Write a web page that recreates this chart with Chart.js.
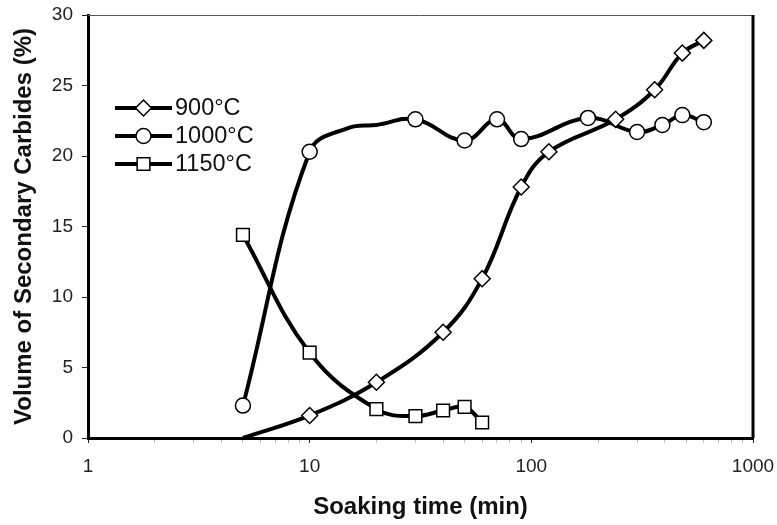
<!DOCTYPE html>
<html>
<head>
<meta charset="utf-8">
<script src="https://cdn.jsdelivr.net/npm/chart.js@4/dist/chart.umd.min.js"></script>
<style>
    html, body { margin: 0; padding: 0; background: #fff; }
    #wrap { width: 777px; height: 525px; }
</style>
</head>
<body>
<div id="wrap"><canvas id="chart"></canvas></div>
<script>
// soaking time (min) and volume of secondary carbides (%)
const t900 = [5, 10, 20, 40, 60, 90, 120, 240, 360, 480, 600]
const v900 = [0, 1.6, 3.95, 7.5, 11.3, 17.8, 20.3, 22.6, 24.7, 27.3, 28.2]
const t1000 = [5, 10, 15, 20, 30, 50, 70, 90, 180, 300, 390, 480, 600]
const v1000 = [2.3, 20.3, 22.0, 22.2, 22.6, 21.1, 22.6, 21.2, 22.7, 21.7, 22.2, 22.9, 22.4]
const t1150 = [5, 10, 20, 30, 40, 50, 60]
const v1150 = [14.4, 6.05, 2.05, 1.55, 1.95, 2.2, 1.1]
// points on the curve that carry no marker
const noMarker900 = [5]
const noMarker1000 = [15, 20]
const seriesNames = ['900°C', '1000°C', '1150°C']
const xTicks = [1, 10, 100, 1000]
const yTicks = [0, 5, 10, 15, 20, 25, 30]

const toPoints = (t, v) => t.map((x, i) => ({x: x, y: v[i]}))
const radiusFor = (skip, r) => ctx => {
    const p = ctx.raw
    return p && skip.includes(p.x) ? 0 : r
}

const common = {
    borderColor: '#000',
    borderWidth: 4,
    pointBackgroundColor: '#fff',
    pointBorderColor: '#000',
    pointBorderWidth: 1.5,
    tension: 0.4,
    fill: false
}

// legend drawn inside the plot, like the original
const insideLegend = {
    id: 'insideLegend',
    afterDraw(chart) {
        const ctx = chart.ctx
        const a = chart.chartArea
        ctx.save()
        chart.data.datasets.forEach((ds, i) => {
            const y = a.top + 93 + i * 28
            const x0 = a.left + 27, x1 = a.left + 84, xm = (x0 + x1) / 2
            ctx.strokeStyle = '#000'
            ctx.lineWidth = 4
            ctx.beginPath()
            ctx.moveTo(x0, y)
            ctx.lineTo(x1, y)
            ctx.stroke()
            ctx.fillStyle = '#fff'
            ctx.lineWidth = 1.5
            const r = ds.legendRadius
            ctx.beginPath()
            if (ds.pointStyle === 'circle') {
                ctx.arc(xm, y, r, 0, Math.PI * 2)
            } else if (ds.pointStyle === 'rectRot') {
                ctx.moveTo(xm, y - r)
                ctx.lineTo(xm + r, y)
                ctx.lineTo(xm, y + r)
                ctx.lineTo(xm - r, y)
                ctx.closePath()
            } else {
                const s = r * Math.SQRT1_2
                ctx.rect(xm - s, y - s, 2 * s, 2 * s)
            }
            ctx.fill()
            ctx.stroke()
            ctx.fillStyle = '#111'
            ctx.font = '23.5px "Liberation Sans", Arial, sans-serif'
            ctx.textBaseline = 'middle'
            ctx.fillText(ds.label, x1 + 3, y + 1)
        })
        ctx.restore()
    }
}

// top and right frame lines
const frame = {
    id: 'frame',
    afterDraw(chart) {
        const ctx = chart.ctx
        const a = chart.chartArea
        ctx.save()
        ctx.strokeStyle = '#555'
        ctx.lineWidth = 1
        ctx.beginPath()
        ctx.moveTo(a.left, a.top + 0.5)
        ctx.lineTo(a.right, a.top + 0.5)
        ctx.stroke()
        ctx.strokeStyle = '#000'
        ctx.lineWidth = 3
        ctx.beginPath()
        ctx.moveTo(a.right, a.top)
        ctx.lineTo(a.right, a.bottom)
        ctx.stroke()
        ctx.restore()
    }
}

let ctx = document.getElementById('chart').getContext('2d')
let chart = new Chart(ctx, {
    type: 'line',
    data: {
        datasets: [
            Object.assign({}, common, {
                label: seriesNames[0],
                data: toPoints(t900, v900),
                pointStyle: 'rectRot',
                pointRadius: radiusFor(noMarker900, 8),
                legendRadius: 8
            }),
            Object.assign({}, common, {
                label: seriesNames[1],
                data: toPoints(t1000, v1000),
                pointStyle: 'circle',
                pointRadius: radiusFor(noMarker1000, 7.5),
                legendRadius: 7.5
            }),
            Object.assign({}, common, {
                label: seriesNames[2],
                data: toPoints(t1150, v1150),
                pointStyle: 'rect',
                pointRadius: 9,
                legendRadius: 9
            })
        ]
    },
    options: {
        responsive: true,
        maintainAspectRatio: false,
        animation: false,
        layout: {padding: {top: 15, right: 24, left: 0, bottom: 0}},
        plugins: {
            legend: {display: false},
            tooltip: {enabled: false}
        },
        scales: {
            x: {
                type: 'logarithmic',
                min: 1,
                max: 1000,
                afterFit: s => {
                    s.height = 87
                    s.paddingLeft = 0
                    s.paddingRight = 0
                },
                afterBuildTicks: s => {
                    // decades plus the minor 2..9 ticks
                    const list = []
                    xTicks.forEach((d, i) => {
                        list.push({value: d})
                        if (i < xTicks.length - 1) {
                            for (let k = 2; k < 10; k++) list.push({value: d * k})
                        }
                    })
                    s.ticks = list
                },
                border: {color: '#000', width: 3},
                grid: {
                    drawOnChartArea: false,
                    drawTicks: true,
                    tickLength: 5,
                    tickColor: c => xTicks.includes(c.tick && c.tick.value) ? '#222' : '#bbb',
                    tickWidth: 1
                },
                ticks: {
                    autoSkip: false,
                    maxRotation: 0,
                    padding: 12,
                    color: '#222',
                    font: {family: '"Liberation Sans", Arial, sans-serif', size: 19},
                    callback: v => xTicks.includes(v) ? String(v) : ''
                },
                title: {
                    display: true,
                    text: 'Soaking time (min)',
                    color: '#111',
                    font: {family: '"Liberation Sans", Arial, sans-serif', size: 24, weight: 'bold'},
                    padding: {top: 0, bottom: 3}
                }
            },
            y: {
                min: 0,
                max: 30,
                afterFit: s => {
                    s.width = 88
                    s.paddingTop = 0
                    s.paddingBottom = 0
                },
                afterBuildTicks: s => { s.ticks = yTicks.map(v => ({value: v})) },
                border: {color: '#000', width: 3},
                grid: {
                    drawOnChartArea: false,
                    drawTicks: true,
                    tickLength: 6,
                    tickColor: '#222',
                    tickWidth: 1
                },
                ticks: {
                    padding: 9,
                    color: '#222',
                    font: {family: '"Liberation Sans", Arial, sans-serif', size: 19}
                },
                title: {
                    display: true,
                    text: 'Volume of Secondary Carbides (%)',
                    color: '#111',
                    font: {family: '"Liberation Sans", Arial, sans-serif', size: 24, weight: 'bold'},
                    padding: {top: 10, bottom: 0}
                }
            }
        }
    },
    plugins: [insideLegend, frame]
})
</script>
</body>
</html>
